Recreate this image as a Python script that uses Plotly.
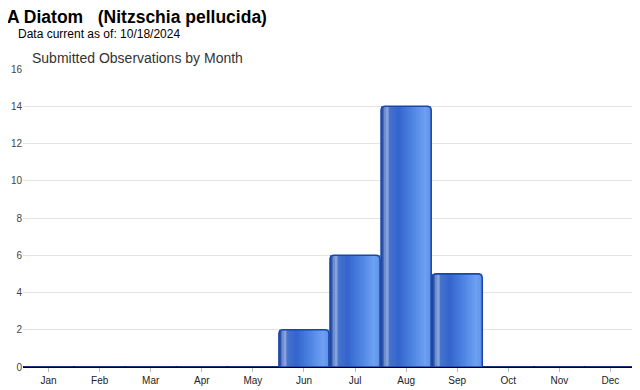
import plotly.graph_objects as go

months = ["Jan", "Feb", "Mar", "Apr", "May", "Jun", "Jul", "Aug", "Sep", "Oct", "Nov", "Dec"]
observations = [0, 0, 0, 0, 0, 2, 6, 14, 5, 0, 0, 0]
y_ticks = [0, 2, 4, 6, 8, 10, 12, 14, 16]

x_idx = list(range(len(months)))
bar_w = 0.98

# horizontal gradient stops (fraction across bar, rgb)
stops = [
    (0.00, (30, 72, 168)),
    (0.05, (55, 95, 185)),
    (0.10, (170, 190, 228)),
    (0.17, (70, 115, 205)),
    (0.35, (52, 100, 205)),
    (0.60, (75, 130, 225)),
    (0.88, (110, 160, 242)),
    (1.00, (95, 145, 235)),
]

def color_at(t):
    for (a, ca), (b, cb) in zip(stops, stops[1:]):
        if a <= t <= b:
            f = (t - a) / (b - a) if b > a else 0
            c = [round(ca[i] + (cb[i] - ca[i]) * f) for i in range(3)]
            return f"rgb({c[0]},{c[1]},{c[2]})"
    c = stops[-1][1]
    return f"rgb({c[0]},{c[1]},{c[2]})"

# page body has an 8px margin; compensate
OFF = 8
W, H = 640 - OFF, 390 - OFF
ML, MR, MT, MB = 23 - OFF, 4, 69 - OFF, 23

fig = go.Figure()
n = 20
sw = bar_w / n
for k in range(n):
    t = (k + 0.5) / n
    off = -bar_w / 2 + k * sw
    w = min(sw * 1.6, bar_w / 2 - off)
    fig.add_trace(go.Bar(
        x=x_idx, y=observations, width=w, offset=off,
        marker=dict(color=color_at(t), line=dict(width=0), cornerradius=0),
        hoverinfo="skip", showlegend=False,
    ))
fig.add_trace(go.Bar(
    x=x_idx, y=observations, width=bar_w, offset=-bar_w / 2,
    marker=dict(color="rgba(0,0,0,0)", line=dict(color="#1a47a3", width=1.6), cornerradius=4),
    showlegend=False,
))

def ann(text, px, py, size, color):
    return dict(text=text, xref="paper", yref="paper",
                x=(px - OFF - ML) / (W - ML - MR),
                y=1 + (MT - (py - OFF)) / (H - MT - MB),
                showarrow=False, xanchor="left", yanchor="top",
                font=dict(size=size, color=color))

fig.update_layout(
    width=W, height=H,
    margin=dict(l=ML, r=MR, t=MT, b=MB),
    paper_bgcolor="white", plot_bgcolor="white",
    barmode="overlay",
    font=dict(family="Arial, Liberation Sans, sans-serif", color="#222"),
    xaxis=dict(
        range=[-0.5, 11.5], tickvals=x_idx, ticktext=months,
        showgrid=False, zeroline=False, showline=False,
        ticks="outside", ticklen=4, tickcolor="#bbb",
        tickfont=dict(size=10, color="#222"), fixedrange=True,
        automargin=False,
    ),
    yaxis=dict(
        range=[0, 16], tickvals=y_ticks, showgrid=True, gridcolor="#e3e3e3",
        zeroline=True, zerolinecolor="#000", zerolinewidth=2,
        tickfont=dict(size=10, color="#444"), ticks="", fixedrange=True,
        automargin=False,
    ),
    annotations=[
        ann("<b>A Diatom   (Nitzschia pellucida)</b>", 5, 5, 17.5, "#000"),
        ann("Data current as of: 10/18/2024", 16, 25, 12, "#000"),
        ann("Submitted Observations by Month", 30, 48, 14, "#333"),
    ],
)

fig.write_html("out.html")
